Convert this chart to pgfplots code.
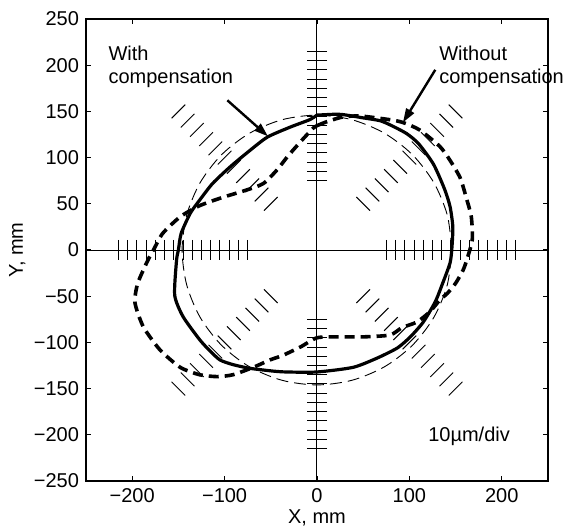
\documentclass[border=0pt]{standalone}
\usepackage{fontspec}
\setmainfont{Liberation Sans}
\usepackage{pgfplots}
\pgfplotsset{compat=1.18}
\usetikzlibrary{arrows.meta}
\begin{document}
\begin{tikzpicture}
\useasboundingbox (-43pt,-22.5pt) rectangle (245.5pt,240.5pt);
\begin{axis}[
  at={(0,0)}, anchor=south west,
  width=231pt, height=231pt, scale only axis,
  xmin=-250, xmax=250, ymin=-250, ymax=250,
  clip=false,
  xtick={-200,-100,0,100,200},
  xticklabels={−200,−100,0,100,200},
  ytick={-250,-200,-150,-100,-50,0,50,100,150,200,250},
  yticklabels={−250,−200,−150,−100,−50,0,50,100,150,200,250},
  tick align=inside, major tick length=2.5pt,
  tick style={black, line width=0.6pt},
  axis line style={line width=0.8pt},
  ticklabel style={font=\fontsize{10}{12}\selectfont},
  xlabel={X, mm}, ylabel={Y, mm},
  label style={font=\fontsize{10}{12}\selectfont},
  xlabel style={at={(axis description cs:0.5,-0.080)}, anchor=center},
  ylabel style={at={(axis description cs:-0.149,0.5)}, anchor=center},
]
% axis cross lines
\addplot[black, line width=0.5pt] coordinates {(-250,0) (250,0)};
\addplot[black, line width=0.5pt] coordinates {(0,-250) (0,250)};
% hatch marks along axes
\addplot[only marks, mark=|, mark size=5.1pt, mark options={line width=0.5pt, black}] coordinates {
(75,0)(85,0)(95,0)(105,0)(115,0)(125,0)(135,0)(145,0)(155,0)(165,0)(175,0)(185,0)(195,0)(205,0)(215,0)
(-75,0)(-85,0)(-95,0)(-105,0)(-115,0)(-125,0)(-135,0)(-145,0)(-155,0)(-165,0)(-175,0)(-185,0)(-195,0)(-205,0)(-215,0)};
\addplot[only marks, mark=-, mark size=5.1pt, mark options={line width=0.5pt, black}] coordinates {
(0,75)(0,85)(0,95)(0,105)(0,115)(0,125)(0,135)(0,145)(0,155)(0,165)(0,175)(0,185)(0,195)(0,205)(0,215)
(0,-75)(0,-85)(0,-95)(0,-105)(0,-115)(0,-125)(0,-135)(0,-145)(0,-155)(0,-165)(0,-175)(0,-185)(0,-195)(0,-205)(0,-215)};
% diagonal hatch marks (perpendicular to the diagonals)
\addplot[only marks, mark=|, mark size=4.8pt, mark options={line width=0.5pt, black, rotate=45}] coordinates {
(50,50)(60,60)(70,70)(80,80)(90,90)(100,100)(110,110)(120,120)(130,130)(140,140)(150,150)
(-50,-50)(-60,-60)(-70,-70)(-80,-80)(-90,-90)(-100,-100)(-110,-110)(-120,-120)(-130,-130)(-140,-140)(-150,-150)};
\addplot[only marks, mark=|, mark size=4.8pt, mark options={line width=0.5pt, black, rotate=-45}] coordinates {
(-50,50)(-60,60)(-70,70)(-80,80)(-90,90)(-100,100)(-110,110)(-120,120)(-130,130)(-140,140)(-150,150)
(50,-50)(60,-60)(70,-70)(80,-80)(90,-90)(100,-100)(110,-110)(120,-120)(130,-130)(140,-140)(150,-150)};
% reference circle
\addplot[black, line width=0.45pt, dash pattern=on 6pt off 3pt, smooth] coordinates {
(146,0)(141.0,37.8)(126.4,73.0)(103.2,103.2)(73.0,126.4)(37.8,141.0)(0,146)
(-37.8,141.0)(-73.0,126.4)(-103.2,103.2)(-126.4,73.0)(-141.0,37.8)(-146,0)
(-141.0,-37.8)(-126.4,-73.0)(-103.2,-103.2)(-73.0,-126.4)(-37.8,-141.0)(0,-146)
(37.8,-141.0)(73.0,-126.4)(103.2,-103.2)(126.4,-73.0)(141.0,-37.8)(146,0)};
% with compensation
\addplot[black, line width=1.6pt, smooth, tension=0.4] coordinates {
(0,146)(22,147)(32,146)(50,143)(68,140)(80,135)(97,126)(110,115)(126,93)(138,66)
(144,47)(147,25)(146,2)(144,-14)(136,-36)(128,-56)(115,-78)(101,-94)(87,-106)(65,-117)
(39,-127)(0,-132)(-33,-132)(-48,-131)(-73,-128)(-91,-124)(-105,-119)(-116,-109)(-127,-97)
(-145,-72)(-154,-49)(-152,-11)(-150,0)(-147,18)(-137,40)(-127,54)(-113,72)(-94,90)
(-76,105)(-54,122)(-29,133)(-8,141)(0,146)};
% without compensation
\addplot[black, line width=1.8pt, dash pattern=on 5pt off 3pt, smooth, tension=0.4] coordinates {
(1,135)(11,139)(28,144)(47,145)(79,141)(93,138)(111,130)(133,112)(144,97)(155,78)
(162,55)(167,36)(168,11)(162,-11)(158,-22)(150,-36)(141,-47)(133,-54)(122,-67)(108,-78)
(92,-84)(79,-92)(50,-94)(22,-94)(0,-95)(-18,-105)(-37,-114)(-51,-119)(-69,-127)(-91,-135)
(-108,-137)(-127,-135)(-148,-127)(-170,-108)(-188,-83)(-197,-57)(-194,-36)(-183,-11)
(-177,0)(-167,18)(-148,36)(-127,48)(-102,57)(-76,65)(-58,72)(-43,87)
(-32,101)(-18,117)(-4,132)(1,135)};
% annotations
\node[anchor=north west, align=left, inner sep=0pt, font=\fontsize{10}{11.5}\selectfont] at (axis cs:-226,221) {With\\compensation};
\node[anchor=north west, align=left, inner sep=0pt, font=\fontsize{10}{11.5}\selectfont] at (axis cs:132,221) {Without\\compensation};
\draw[-{Triangle[length=7pt,width=4.5pt]}, line width=1.2pt] (axis cs:-97,162) -- (axis cs:-53,123);
\draw[-{Triangle[length=7pt,width=4.5pt]}, line width=1.2pt] (axis cs:128,195) -- (axis cs:93,138);
\node[anchor=west, inner sep=0pt, font=\fontsize{10}{12}\selectfont] at (axis cs:120,-202) {10µm/div};
\end{axis}
\end{tikzpicture}
\end{document}
